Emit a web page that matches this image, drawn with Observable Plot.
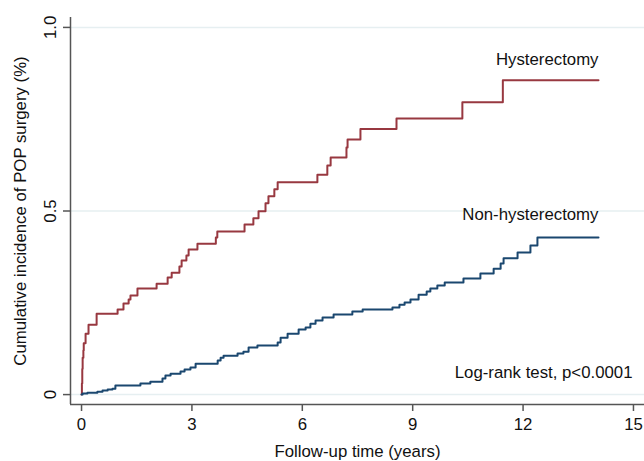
<!DOCTYPE html>
<html><head><meta charset="utf-8">
<script src="https://cdn.jsdelivr.net/npm/d3@7"></script>
<script src="https://cdn.jsdelivr.net/npm/@observablehq/plot@0.6"></script>
<style>body{margin:0;background:#fff;}</style>
</head><body><div id="chart"></div>
<script>
// Hysterectomy group: step times (years) and cumulative incidence
const hystTime = [0, 0.01, 0.02, 0.03, 0.05, 0.06, 0.11, 0.19, 0.41, 0.98, 1.14, 1.28, 1.33, 1.52, 2.04, 2.34, 2.45, 2.66, 2.72, 2.85, 2.91, 3.15, 3.65, 3.69, 4.43, 4.67, 4.81, 5.00, 5.08, 5.24, 5.33, 6.41, 6.68, 6.77, 7.20, 7.23, 7.58, 8.56, 10.35, 11.45, 14.05];
const hystInc  = [0, 0.03, 0.07, 0.10, 0.12, 0.14, 0.166, 0.19, 0.22, 0.232, 0.248, 0.259, 0.270, 0.289, 0.302, 0.319, 0.332, 0.349, 0.365, 0.379, 0.395, 0.411, 0.428, 0.444, 0.463, 0.480, 0.499, 0.521, 0.540, 0.559, 0.578, 0.599, 0.624, 0.646, 0.673, 0.695, 0.723, 0.752, 0.796, 0.856, 0.856];
// Non-hysterectomy group
const nonTime = [0, 0.03, 0.16, 0.43, 0.57, 0.71, 0.84, 0.92, 1.60, 1.87, 2.20, 2.28, 2.42, 2.69, 2.80, 2.96, 3.10, 3.70, 3.78, 3.86, 4.24, 4.40, 4.54, 4.78, 5.33, 5.41, 5.60, 5.90, 6.09, 6.22, 6.36, 6.55, 6.85, 7.36, 7.64, 8.45, 8.64, 8.78, 8.94, 9.16, 9.38, 9.48, 9.67, 9.87, 10.38, 10.84, 11.20, 11.39, 11.47, 11.85, 12.20, 12.39, 14.05];
const nonInc  = [0, 0.003, 0.005, 0.008, 0.011, 0.014, 0.016, 0.025, 0.030, 0.035, 0.044, 0.052, 0.057, 0.063, 0.068, 0.074, 0.084, 0.093, 0.100, 0.106, 0.112, 0.117, 0.128, 0.134, 0.142, 0.155, 0.166, 0.177, 0.183, 0.193, 0.202, 0.210, 0.218, 0.226, 0.232, 0.237, 0.245, 0.251, 0.259, 0.272, 0.281, 0.289, 0.297, 0.305, 0.316, 0.330, 0.343, 0.357, 0.371, 0.387, 0.406, 0.428, 0.428];

const seriesNames = ["Hysterectomy", "Non-hysterectomy"];
const xTicks = [0, 3, 6, 9, 12, 15];
const yTicks = [0, 0.5, 1.0];
const yTickLabels = ["0", "0.5", "1.0"];
const xLabel = "Follow-up time (years)";
const yLabel = "Cumulative incidence of POP surgery (%)";
const note = "Log-rank test, p<0.0001";

const xDomain = [-0.3, 15.3];
const yDomain = [-0.027, 1.027];

const hyst = hystTime.map((t, i) => ({t, v: hystInc[i]}));
const non = nonTime.map((t, i) => ({t, v: nonInc[i]}));

const RED = "#983840", BLUE = "#1a476f", AXIS = "#555", TXT = "#111";
const FS = 16.8;

const chart = Plot.plot({
  width: 644, height: 461,
  marginLeft: 70, marginRight: 0, marginTop: 17, marginBottom: 57,
  style: {fontFamily: "'Liberation Sans', Arial, sans-serif", fontSize: FS + "px", background: "white", color: TXT},
  x: {domain: xDomain},
  y: {domain: yDomain},
  marks: [
    Plot.gridY(yTicks, {stroke: "#e6eff1", strokeOpacity: 1, strokeWidth: 1.5}),
    Plot.line(hyst, {x: "t", y: "v", curve: "step-after", stroke: RED, strokeWidth: 2}),
    Plot.line(non, {x: "t", y: "v", curve: "step-after", stroke: BLUE, strokeWidth: 2}),
    Plot.ruleX([xDomain[0]], {stroke: AXIS, strokeWidth: 1.5}),
    Plot.ruleY([yDomain[0]], {stroke: AXIS, strokeWidth: 1.5}),
    Plot.axisX(xTicks, {tickSize: 7, tickPadding: 7, fontSize: FS, stroke: AXIS, strokeWidth: 1.5, fill: TXT, label: null}),
    Plot.axisY(yTicks, {tickSize: 7, tickFormat: () => "", stroke: AXIS, strokeWidth: 1.5, label: null}),
    Plot.text(yTicks, {y: d => d, text: (d, i) => yTickLabels[i], frameAnchor: "left", textAnchor: "middle", dx: -20, rotate: -90, fontSize: FS, fill: TXT}),
    Plot.text([yLabel], {text: d => d, frameAnchor: "left", textAnchor: "middle", dx: -50, rotate: -90, fontSize: FS, fill: TXT}),
    Plot.text([xLabel], {text: d => d, frameAnchor: "bottom", dy: 52, fontSize: FS, fill: TXT}),
    Plot.text([hyst[hyst.length - 1]], {x: "t", y: "v", text: () => seriesNames[0], textAnchor: "end", dy: -21, fontSize: FS, fill: TXT}),
    Plot.text([non[non.length - 1]], {x: "t", y: "v", text: () => seriesNames[1], textAnchor: "end", dy: -23, fontSize: FS, fill: TXT}),
    Plot.text([note], {text: d => d, frameAnchor: "bottom-right", dx: -12, dy: -27, fontSize: FS, fill: TXT})
  ]
});
document.getElementById("chart").appendChild(chart);
</script></body></html>
